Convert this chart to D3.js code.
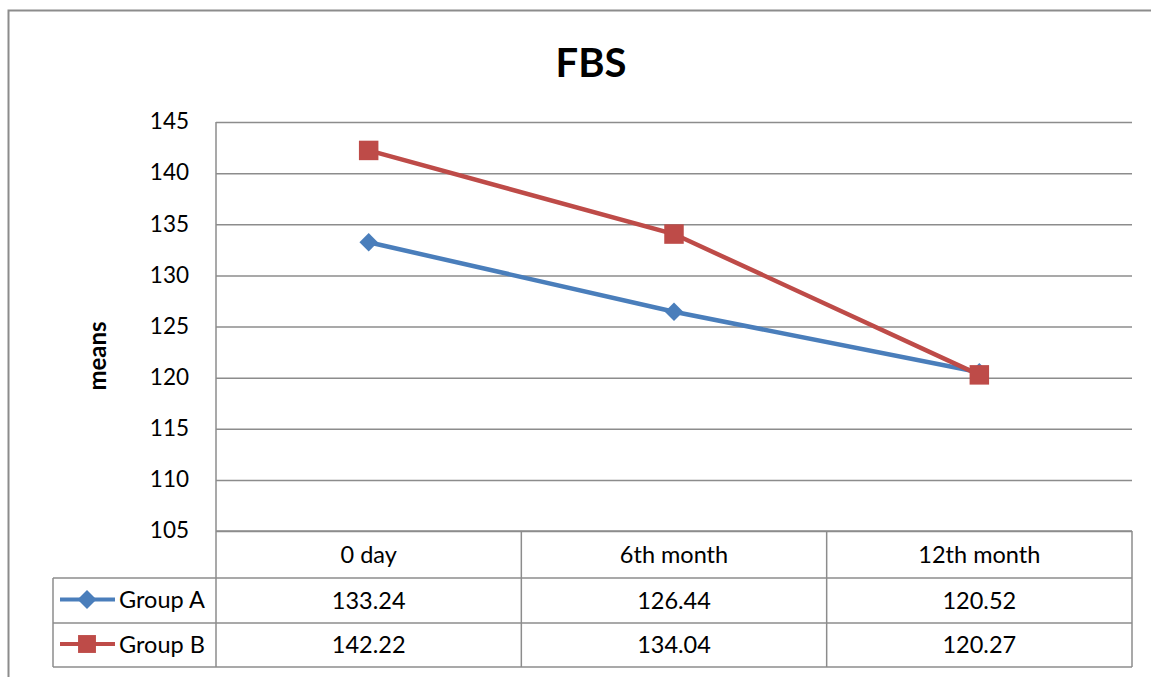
<!DOCTYPE html>
<html>
<head>
<meta charset="utf-8">
<script src="https://cdn.jsdelivr.net/npm/d3@7"></script>
<style>
  body { margin: 0; background: #fff; }
  svg text { font-family: Lato, "Open Sans", sans-serif; fill: #000; }
</style>
</head>
<body>
<div id="chart"></div>
<script>
// datos
const categories = ["0 day", "6th month", "12th month"]
const groupA = [133.24, 126.44, 120.52]
const groupB = [142.22, 134.04, 120.27]
const yTicks = [105, 110, 115, 120, 125, 130, 135, 140, 145]

const width = 1151, height = 677
const plot = { left: 216, right: 1132, top: 122, bottom: 531 }
const rowH = [47, 45, 44]   // header row, group A, group B
const legendLeft = 53
const gridColor = "#8c8c8c"
const fontSize = "23.5px"

// el rombo es un cuadrado girado 45º
const series = [
  { name: "Group A", values: groupA, color: "#4A7EBB", shape: d3.symbolSquare, rot: 45, size: 170, legendSize: 180 },
  { name: "Group B", values: groupB, color: "#BE4B48", shape: d3.symbolSquare, rot: 0, size: 380, legendSize: 320 }
]

const svg = d3.select("#chart").append("svg")
  .attr("width", width).attr("height", height)

// marco exterior
svg.append("rect")
  .attr("x", 8.5).attr("y", 10.5).attr("width", 1170).attr("height", 700)
  .attr("fill", "none").attr("stroke", gridColor).attr("stroke-width", 2)

const x = d3.scaleBand().domain(categories).range([plot.left, plot.right])
const y = d3.scaleLinear().domain([105, 145]).range([plot.bottom, plot.top])

// rejilla
svg.append("g")
  .attr("transform", `translate(${plot.left},0)`)
  .call(d3.axisLeft(y).tickValues(yTicks).tickSize(-(plot.right - plot.left)).tickPadding(27))
  .call(g => g.select(".domain").remove())
  .call(g => g.selectAll(".tick line").attr("stroke", gridColor).attr("stroke-width", 1.5))
  .call(g => g.selectAll(".tick text")
    .style("font-size", "22.5px").attr("dy", "0.3em"))

// título
svg.append("text")
  .attr("x", 591).attr("y", 77)
  .attr("text-anchor", "middle")
  .style("font-size", "40px").style("font-weight", "bold")
  .text("FBS")

svg.append("text")
  .attr("transform", "translate(106,356) rotate(-90)")
  .attr("text-anchor", "middle")
  .style("font-size", "24px").style("font-weight", "bold")
  .text("means")

// tabla de datos
const tableTop = plot.bottom
const rowY = [tableTop, tableTop + rowH[0], tableTop + rowH[0] + rowH[1], tableTop + rowH[0] + rowH[1] + rowH[2]]
const table = svg.append("g")
  .attr("stroke", gridColor).attr("stroke-width", 1.5)

// líneas horizontales
rowY.forEach((yy, i) => {
  table.append("line")
    .attr("x1", i === 0 ? plot.left : legendLeft).attr("x2", plot.right)
    .attr("y1", yy).attr("y2", yy)
})
// verticales
const cols = categories.map(c => x(c)).concat([plot.right])
cols.forEach(cx => {
  table.append("line")
    .attr("x1", cx).attr("x2", cx)
    .attr("y1", cx === plot.left ? plot.top : tableTop).attr("y2", rowY[3])
})
table.append("line")
  .attr("x1", legendLeft).attr("x2", legendLeft)
  .attr("y1", rowY[1]).attr("y2", rowY[3])

// etiquetas de categoría
svg.selectAll(".cat")
  .data(categories)
  .join("text")
  .attr("x", d => x(d) + x.bandwidth() / 2)
  .attr("y", rowY[0] + rowH[0] / 2)
  .attr("dy", "0.35em")
  .attr("text-anchor", "middle")
  .style("font-size", fontSize)
  .text(d => d)

// filas de valores y leyenda
series.forEach((s, i) => {
  const cy = rowY[i + 1] + rowH[i + 1] / 2
  svg.selectAll(".val" + i)
    .data(s.values)
    .join("text")
    .attr("x", (d, j) => x(categories[j]) + x.bandwidth() / 2)
    .attr("y", cy)
    .attr("dy", "0.35em")
    .attr("text-anchor", "middle")
    .style("font-size", fontSize)
    .text(d => d.toFixed(2))

  svg.append("line")
    .attr("x1", 60).attr("x2", 115).attr("y1", cy - 1).attr("y2", cy - 1)
    .attr("stroke", s.color).attr("stroke-width", 4)
  svg.append("path")
    .attr("transform", `translate(87,${cy - 1}) rotate(${s.rot})`)
    .attr("d", d3.symbol().type(s.shape).size(s.legendSize)())
    .attr("fill", s.color)
  svg.append("text")
    .attr("x", 119).attr("y", cy).attr("dy", "0.32em")
    .style("font-size", fontSize)
    .text(s.name)
})

// líneas de series
const line = d3.line()
  .x((d, j) => x(categories[j]) + x.bandwidth() / 2)
  .y(d => y(d))

series.forEach((s, i) => {
  svg.append("path")
    .datum(s.values)
    .attr("fill", "none")
    .attr("stroke", s.color)
    .attr("stroke-width", 4.5)
    .attr("d", line)
  svg.selectAll(".pt" + i)
    .data(s.values)
    .join("path")
    .attr("transform", (d, j) => `translate(${x(categories[j]) + x.bandwidth() / 2},${y(d)}) rotate(${s.rot})`)
    .attr("d", d3.symbol().type(s.shape).size(s.size)())
    .attr("fill", s.color)
})
</script>
</body>
</html>
